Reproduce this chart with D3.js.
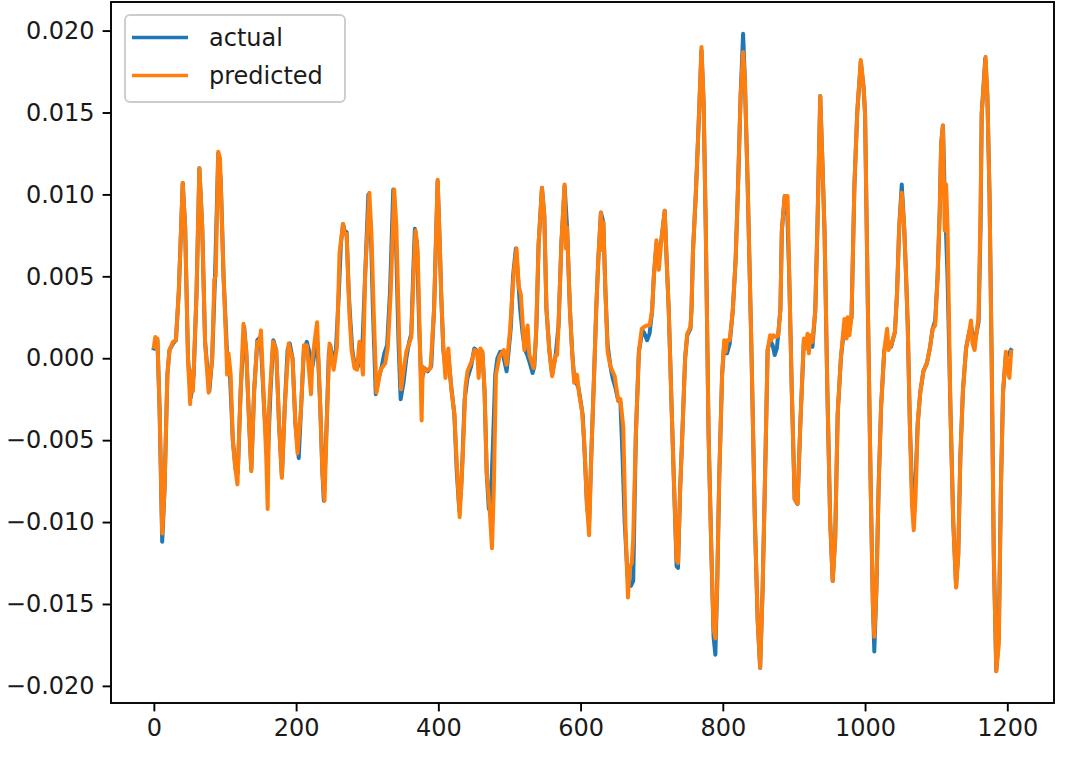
<!DOCTYPE html>
<html>
<head>
<meta charset="utf-8">
<script src="https://cdn.jsdelivr.net/npm/d3@7"></script>
<style>
  html, body { margin: 0; padding: 0; background: #fff; }
  svg { display: block; }
  text { font-family: "DejaVu Sans", sans-serif; }
</style>
</head>
<body>
<svg id="chart" width="1072" height="762"></svg>
<script>
// ---- data: [sample index, value] ----
const seriesNames = ["actual", "predicted"];
const seriesColors = ["#1f77b4", "#ff7f0e"];
const xTickValues = [0, 200, 400, 600, 800, 1000, 1200];
const yTickValues = [-0.020, -0.015, -0.010, -0.005, 0.000, 0.005, 0.010, 0.015, 0.020];

const actual = [[0,0.0006],[3,0.0010],[5,0.0011],[8,-0.0030],[11.7,-0.0112],[15,-0.0080],[19,-0.0010],[22,0.0005],[27,0.0009],[31,0.0011],[35,0.0040],[40.6,0.0107],[44,0.0080],[48,0.0000],[52,-0.0024],[56,-0.0010],[60,0.0040],[64,0.0116],[68,0.0080],[72,0.0010],[78,-0.0020],[82,0.0000],[86,0.0050],[90.5,0.0125],[94,0.0109],[98,0.0050],[103,0.0002],[107,-0.0010],[111,-0.0050],[115,-0.0068],[118,-0.0070],[122,-0.0020],[127,0.0019],[130,0.0003],[134,-0.0040],[137,-0.0068],[141,-0.0020],[145.5,0.0011],[150,0.0013],[155,-0.0030],[160,-0.0063],[164,-0.0020],[168,0.0011],[172,0.0005],[176,-0.0040],[180,-0.0072],[184,-0.0030],[188,0.0005],[191,0.0009],[195,0.0000],[199,-0.0040],[203.7,-0.0061],[207,-0.0030],[211,0.0005],[215,0.0010],[219,0.0003],[223,-0.0005],[227,0.0006],[230,0.0010],[234,-0.0030],[237,-0.0070],[239,-0.0087],[243,-0.0040],[246,0.0003],[248,0.0008],[252,-0.0002],[256,0.0005],[260,0.0039],[263,0.0070],[266,0.0082],[269,0.0076],[271,0.0077],[274,0.0040],[276,0.0025],[279,0.0005],[283,-0.0006],[287,-0.0005],[290,-0.0003],[293,0.0005],[297,0.0050],[301.6,0.0100],[305,0.0080],[308,0.0030],[312,-0.0022],[316,-0.0012],[320,-0.0006],[324,0.0003],[328,0.0008],[332,0.0040],[336.6,0.0103],[340,0.0080],[344,0.0010],[347,-0.0025],[351,-0.0015],[355,0.0000],[359,0.0010],[362,0.0015],[364.5,0.0050],[367,0.0079],[370,0.0070],[373,0.0020],[376,-0.0015],[380,-0.0006],[385,-0.0008],[390,-0.0005],[394,0.0030],[399,0.0108],[402,0.0070],[404,0.0039],[407,0.0005],[410,-0.0006],[414,0.0002],[418,-0.0017],[422.5,-0.0034],[426,-0.0070],[429.5,-0.0093],[432,-0.0080],[434,-0.0060],[437,-0.0025],[441,-0.0012],[446,-0.0005],[450.6,0.0006],[453,0.0005],[457,0.0000],[462,0.0003],[465,-0.0020],[468,-0.0070],[471,-0.0092],[474,-0.0085],[477,-0.0050],[480,-0.0010],[483,0.0000],[487,0.0004],[490,0.0004],[493,-0.0002],[496,-0.0008],[499,0.0005],[502,0.0019],[505,0.0050],[509,0.0067],[512,0.0050],[515,0.0030],[518.5,0.0015],[522,0.0005],[525,0.0002],[528,-0.0002],[532.5,-0.0009],[535,-0.0005],[538,0.0020],[541,0.0070],[545.7,0.0104],[549,0.0087],[552,0.0030],[556,0.0005],[560,-0.0010],[565,0.0002],[569,0.0020],[573,0.0070],[577.5,0.0105],[581,0.0080],[585,0.0030],[588,0.0005],[591,-0.0012],[594,-0.0015],[597,-0.0018],[600,-0.0026],[603,-0.0035],[606,-0.0060],[609,-0.0090],[612,-0.0100],[615,-0.0060],[619,-0.0010],[622,0.0030],[625,0.0061],[628.6,0.0089],[632,0.0083],[635,0.0040],[638,0.0008],[642,-0.0005],[645,-0.0012],[649,-0.0018],[653,-0.0026],[656,-0.0027],[659,-0.0060],[662,-0.0100],[666,-0.0133],[670.7,-0.0139],[674,-0.0136],[677.7,-0.0047],[682,0.0004],[687,0.0017],[690,0.0015],[693.5,0.0011],[697,0.0015],[700.6,0.0029],[703,0.0050],[706.7,0.0070],[710,0.0065],[713,0.0070],[718.3,0.0090],[721,0.0060],[724,0.0029],[728,-0.0030],[731,-0.0072],[735,-0.0127],[737,-0.0128],[740,-0.0080],[743,-0.0047],[747,0.0000],[750,0.0014],[754.5,0.0018],[756,0.0030],[758,0.0065],[762,0.0100],[766,0.0143],[770,0.0188],[773,0.0156],[776,0.0080],[780,-0.0047],[784,-0.0120],[787,-0.0170],[789.5,-0.0181],[792,-0.0140],[795,-0.0072],[799,-0.0010],[802,0.0009],[806,0.0003],[809.7,0.0009],[814,0.0029],[818,0.0060],[821.4,0.0105],[825,0.0160],[828.5,0.0198],[831,0.0170],[835,0.0105],[840,0.0010],[845,-0.0098],[849,-0.0160],[852.5,-0.0189],[856,-0.0140],[859.4,-0.0072],[863,0.0005],[866.5,0.0011],[870,0.0008],[873,0.0002],[876,0.0006],[878,0.0015],[881,0.0030],[883,0.0078],[887,0.0099],[890,0.0098],[893.4,0.0050],[897,-0.0020],[901,-0.0086],[905,-0.0089],[909,-0.0040],[914,0.0011],[919,0.0010],[923,0.0013],[926,0.0007],[930,0.0029],[933,0.0080],[937,0.0160],[940,0.0120],[943,0.0078],[947,-0.0020],[951,-0.0100],[954.5,-0.0136],[958,-0.0110],[961.5,-0.0034],[966,0.0000],[971,0.0020],[976,0.0014],[981,0.0025],[985,0.0105],[989,0.0150],[994,0.0181],[998,0.0165],[1000,0.0149],[1004,0.0030],[1008,-0.0080],[1011,-0.0150],[1013,-0.0179],[1016,-0.0140],[1019,-0.0080],[1022.5,-0.0030],[1027,0.0005],[1031,0.0010],[1036.6,0.0007],[1042,0.0016],[1045,0.0040],[1048,0.0080],[1051.6,0.0106],[1055,0.0080],[1057.7,0.0050],[1060,0.0020],[1063,-0.0040],[1066,-0.0080],[1068.5,-0.0085],[1071,-0.0075],[1074,-0.0040],[1077.6,-0.0021],[1082,-0.0008],[1087,-0.0003],[1091.5,0.0007],[1095,0.0018],[1098.6,0.0023],[1102,0.0050],[1105,0.0090],[1107,0.0131],[1109.5,0.0142],[1112,0.0100],[1116,0.0050],[1120,-0.0030],[1124,-0.0100],[1128,-0.0139],[1131,-0.0120],[1134,-0.0060],[1137.6,-0.0020],[1142,0.0006],[1146,0.0015],[1149,0.0020],[1154,0.0009],[1159.6,0.0022],[1162.4,0.0080],[1164,0.0149],[1169,0.0183],[1172,0.0160],[1175,0.0100],[1178,0.0000],[1181,-0.0120],[1184.5,-0.0191],[1188,-0.0170],[1191,-0.0080],[1194,-0.0021],[1198,0.0002],[1201,0.0002],[1205,0.0005]];

const predicted = [[0,0.0007],[2,0.0013],[4,0.0006],[5,0.0012],[8,-0.0030],[11.7,-0.0107],[15,-0.0080],[19,-0.0010],[22,0.0005],[27,0.0010],[31,0.0011],[35,0.0040],[40.6,0.0107],[44,0.0080],[48,0.0000],[51,-0.0028],[53,-0.0008],[55,-0.0020],[60,0.0040],[64,0.0116],[68,0.0080],[72,0.0010],[77,-0.0021],[82,0.0000],[85,0.0048],[87,0.0050],[90.5,0.0126],[93,0.0122],[98,0.0050],[102,0.0005],[103,-0.0010],[105,0.0003],[108,-0.0010],[111,-0.0050],[114,-0.0065],[117.5,-0.0077],[122,-0.0020],[126,0.0021],[130,0.0004],[134,-0.0040],[137,-0.0069],[141,-0.0020],[145.5,0.0010],[148,0.0008],[150.6,0.0017],[155,-0.0030],[158,-0.0060],[160,-0.0092],[162,-0.0030],[167.5,0.0010],[172,0.0005],[176,-0.0040],[180,-0.0073],[184,-0.0030],[189.5,0.0009],[192,0.0004],[195,0.0000],[199,-0.0040],[202,-0.0058],[207,-0.0030],[211,0.0008],[215,0.0008],[221,-0.0022],[223,0.0000],[229.5,0.0022],[234,-0.0030],[237,-0.0070],[240,-0.0087],[243,-0.0040],[247,0.0009],[252.8,-0.0007],[257.5,0.0007],[261,0.0064],[266,0.0082],[268,0.0076],[271,0.0076],[275,0.0027],[278,0.0005],[282,-0.0006],[285.7,-0.0007],[289,0.0010],[294,-0.0010],[297,0.0050],[303,0.0101],[306,0.0075],[309,0.0030],[313,-0.0021],[319,-0.0007],[325.5,-0.0003],[329,0.0007],[333,0.0040],[338,0.0103],[341,0.0080],[345,0.0010],[347.6,-0.0019],[351,-0.0008],[355,0.0004],[359.8,0.0010],[362,0.0013],[365,0.0050],[368,0.0078],[371,0.0065],[374,0.0010],[376.5,-0.0038],[378,-0.0005],[382,-0.0008],[389,-0.0006],[394,0.0030],[399,0.0109],[402,0.0070],[404,0.0039],[407,0.0007],[410,-0.0012],[414,0.0006],[418,-0.0018],[422.5,-0.0034],[426,-0.0065],[430,-0.0097],[434,-0.0063],[438,-0.0018],[441,-0.0008],[447.6,-0.0001],[451,0.0005],[454.6,0.0004],[456.7,-0.0012],[459,0.0006],[462,0.0004],[465,-0.0020],[468,-0.0070],[472,-0.0091],[475.4,-0.0116],[478,-0.0080],[481,-0.0010],[486,0.0001],[492,0.0005],[496,-0.0004],[500.6,0.0016],[506,0.0052],[510,0.0067],[513,0.0044],[516,0.0039],[518.5,0.0022],[521,0.0005],[525.5,0.0020],[528,0.0002],[534,-0.0006],[537,0.0010],[541,0.0070],[545.7,0.0104],[549,0.0087],[552,0.0030],[556,0.0005],[560,-0.0011],[565,0.0002],[567,0.0002],[569,0.0020],[573,0.0070],[577.5,0.0106],[579.5,0.0067],[581,0.0080],[585,0.0030],[588,0.0005],[591,-0.0015],[595,-0.0010],[598,-0.0022],[602,-0.0032],[605,-0.0050],[609,-0.0090],[612,-0.0108],[615,-0.0060],[619,-0.0010],[622,0.0030],[625,0.0061],[628.6,0.0089],[630.5,0.0066],[632,0.0083],[635,0.0040],[638,0.0004],[642,-0.0005],[648,-0.0011],[653,-0.0026],[656,-0.0025],[660,-0.0042],[663,-0.0100],[666.6,-0.0146],[669,-0.0128],[672,-0.0125],[674,-0.0110],[677.7,-0.0047],[682,0.0004],[686,0.0018],[689,0.0019],[693,0.0020],[697,0.0020],[700.6,0.0029],[703,0.0050],[706.7,0.0072],[710,0.0054],[713,0.0069],[718.3,0.0090],[721,0.0060],[724,0.0029],[728,-0.0030],[731,-0.0072],[735,-0.0123],[737,-0.0125],[740,-0.0080],[743,-0.0047],[747,0.0000],[750,0.0015],[754.5,0.0019],[756,0.0030],[758,0.0065],[762,0.0100],[766,0.0143],[770,0.0190],[773,0.0156],[776,0.0080],[780,-0.0047],[784,-0.0120],[787,-0.0165],[789.5,-0.0171],[792,-0.0140],[795,-0.0072],[799,-0.0010],[802,0.0011],[804,0.0004],[806,0.0011],[809.7,0.0011],[814,0.0029],[818,0.0060],[821.4,0.0105],[825,0.0160],[828.5,0.0187],[831,0.0170],[835,0.0105],[840,0.0010],[845,-0.0098],[849,-0.0160],[852.5,-0.0189],[856,-0.0140],[859.4,-0.0072],[863,0.0005],[866.5,0.0014],[868,0.0011],[871,0.0014],[875,0.0013],[878,0.0014],[881,0.0030],[883,0.0078],[887,0.0099],[891,0.0099],[893.4,0.0050],[897,-0.0020],[901,-0.0086],[905,-0.0089],[909,-0.0040],[914,0.0012],[917,0.0006],[919,0.0015],[921,0.0003],[923,0.0014],[926,0.0010],[930,0.0029],[933,0.0080],[937,0.0160],[940,0.0120],[943,0.0078],[947,-0.0020],[951,-0.0100],[954.5,-0.0136],[958,-0.0110],[961.5,-0.0034],[966,0.0000],[971,0.0024],[974,0.0012],[975.6,0.0025],[978,0.0014],[981,0.0026],[985,0.0105],[989,0.0150],[994,0.0182],[998,0.0165],[1000,0.0149],[1004,0.0030],[1008,-0.0080],[1011,-0.0150],[1013,-0.0170],[1016,-0.0140],[1019,-0.0080],[1022.5,-0.0030],[1027,0.0005],[1031,0.0018],[1033,0.0005],[1036.6,0.0008],[1042,0.0016],[1045,0.0040],[1048,0.0080],[1051.6,0.0101],[1055,0.0080],[1057.7,0.0050],[1060,0.0020],[1063,-0.0040],[1066,-0.0090],[1068.5,-0.0105],[1071,-0.0085],[1074,-0.0040],[1077.6,-0.0021],[1082,-0.0008],[1087,-0.0003],[1091.5,0.0007],[1095,0.0018],[1098.6,0.0020],[1102,0.0050],[1105,0.0090],[1107,0.0131],[1109.5,0.0142],[1112,0.0078],[1114,0.0106],[1116,0.0080],[1120,-0.0030],[1124,-0.0100],[1128,-0.0140],[1131,-0.0120],[1134,-0.0060],[1137.6,-0.0020],[1142,0.0006],[1146,0.0015],[1149,0.0023],[1151,0.0009],[1154,0.0005],[1156,0.0013],[1159.6,0.0025],[1162.4,0.0090],[1164,0.0149],[1169.5,0.0184],[1172,0.0160],[1175,0.0100],[1178,0.0000],[1181,-0.0120],[1184.5,-0.0191],[1188,-0.0175],[1191,-0.0080],[1194,-0.0021],[1198,0.0004],[1201,-0.0008],[1203,-0.0012],[1205.4,0.0004]];

// ---- layout ----
const W = 1072, H = 762;
const plot = { left: 111, top: 2, right: 1054, bottom: 703 };
const FONT = 24;
const TEXT_COLOR = "#1a1a1a";

const svg = d3.select("#chart");

// matplotlib-style 5% margins
const allPts = actual.concat(predicted);
const xExt = d3.extent(allPts, d => d[0]);
const yExt = d3.extent(allPts, d => d[1]);
const xPad = (xExt[1] - xExt[0]) * 0.05;
const yPad = (yExt[1] - yExt[0]) * 0.05;

const x = d3.scaleLinear().domain([xExt[0] - xPad, xExt[1] + xPad]).range([plot.left, plot.right]);
const y = d3.scaleLinear().domain([yExt[0] - yPad, yExt[1] + yPad]).range([plot.bottom, plot.top]);

svg.append("rect").attr("width", W).attr("height", H).attr("fill", "#fff");

svg.append("defs").append("clipPath").attr("id", "clip")
  .append("rect").attr("x", plot.left).attr("y", plot.top)
  .attr("width", plot.right - plot.left).attr("height", plot.bottom - plot.top);

const line = d3.line().x(d => x(d[0])).y(d => y(d[1]));
const lines = svg.append("g").attr("clip-path", "url(#clip)");
[actual, predicted].forEach((s, i) => {
  lines.append("path").datum(s)
    .attr("d", line)
    .attr("fill", "none")
    .attr("stroke", seriesColors[i])
    .attr("stroke-width", 4)
    .attr("stroke-linejoin", "round")
    .attr("stroke-linecap", "square");
});

// axes
const fmtY = v => d3.format(".3f")(v).replace("-", "\u2212");
const xAxis = d3.axisBottom(x).tickValues(xTickValues).tickSize(8.4).tickPadding(8).tickFormat(d3.format("d"));
const yAxis = d3.axisLeft(y).tickValues(yTickValues).tickSize(8.4).tickPadding(8).tickFormat(fmtY);

const gx = svg.append("g").attr("transform", `translate(0,${plot.bottom})`).call(xAxis);
const gy = svg.append("g").attr("transform", `translate(${plot.left},0)`).call(yAxis);
[gx, gy].forEach(g => {
  g.select(".domain").remove();
  g.selectAll(".tick line").attr("stroke", "#000").attr("stroke-width", 1.9);
  g.selectAll(".tick text").attr("fill", TEXT_COLOR).style("font-size", FONT + "px")
    .style("font-family", "'DejaVu Sans', sans-serif");
});

// frame
svg.append("rect")
  .attr("x", plot.left).attr("y", plot.top)
  .attr("width", plot.right - plot.left).attr("height", plot.bottom - plot.top)
  .attr("fill", "none").attr("stroke", "#000").attr("stroke-width", 1.9);

// legend
const leg = svg.append("g");
leg.append("rect")
  .attr("x", 125).attr("y", 15).attr("width", 220).attr("height", 87)
  .attr("rx", 5).attr("ry", 5)
  .attr("fill", "#fff").attr("fill-opacity", 0.8)
  .attr("stroke", "#cccccc").attr("stroke-width", 1.9);
seriesNames.forEach((name, i) => {
  const cy = 37.5 + i * 38;
  leg.append("line").attr("x1", 132).attr("x2", 188).attr("y1", cy).attr("y2", cy)
    .attr("stroke", seriesColors[i]).attr("stroke-width", 3.6);
  leg.append("text").attr("x", 209).attr("y", cy).attr("dy", "0.35em")
    .style("font-size", FONT + "px").attr("fill", TEXT_COLOR).text(name);
});
</script>
</body>
</html>
